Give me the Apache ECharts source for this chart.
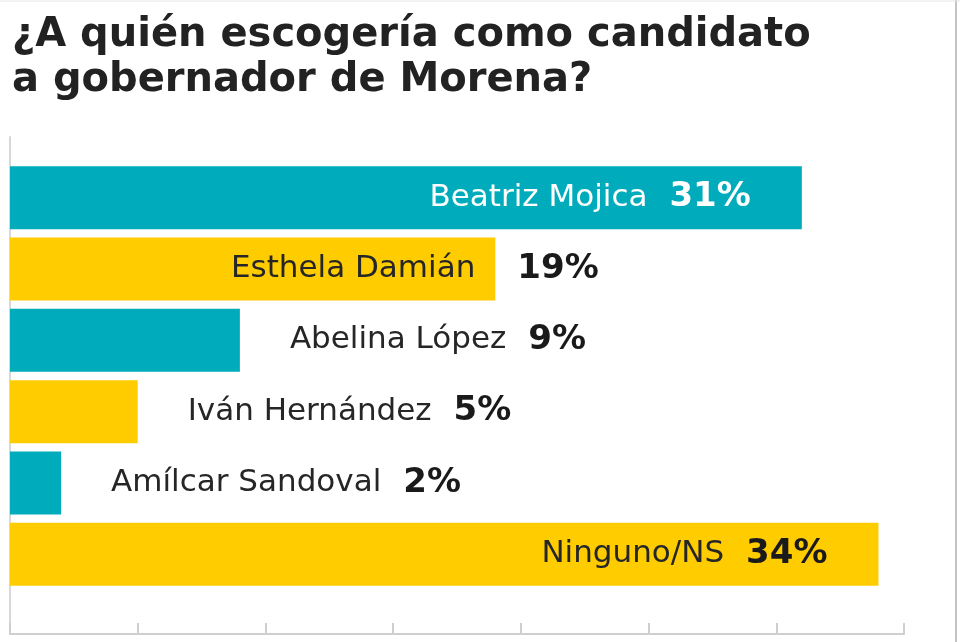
<!DOCTYPE html>
<html>
<head>
<meta charset="utf-8">
<script src="https://cdn.jsdelivr.net/npm/echarts@6/dist/echarts.min.js"></script>
<style>
    html, body { margin: 0; padding: 0; background: #fff; }
    #main { width: 960px; height: 642px; }
</style>
</head>
<body>
<div id="main"></div>
<script>
// datos de la encuesta
const candidatos = ['Beatriz Mojica', 'Esthela Damián', 'Abelina López', 'Iván Hernández', 'Amílcar Sandoval', 'Ninguno/NS']
const porcentajes = [31, 19, 9, 5, 2, 34]
const ticksX = [0, 5, 10, 15, 20, 25, 30, 35]

const colores = ['#00abbb', '#ffcc00']
const nameSize = 31

// medir ancho de texto para colocar la etiqueta partida
const ctx = document.createElement('canvas').getContext('2d')
function textWidth(txt) {
    ctx.font = nameSize + 'px "DejaVu Sans"'
    return ctx.measureText(txt).width
}

// cómo se coloca cada etiqueta: dentro al final, fuera, o partida
const modos = ['inside', 'split', 'outside', 'outside', 'outside', 'inside']

function labelFor(i) {
    let modo = modos[i]
    let base = {
        show: true,
        formatter: '{n|' + candidatos[i] + '}{g|}{p|{c}%}',
        rich: {
            n: { fontFamily: 'DejaVu Sans', fontSize: nameSize, color: i === 0 ? '#ffffff' : '#262626' },
            g: { width: 22 },
            p: { fontFamily: 'DejaVu Sans', fontWeight: 'bold', fontSize: 34, color: i === 0 ? '#ffffff' : '#1a1a1a' }
        }
    }
    if (modo === 'inside') {
        base.position = 'insideRight'
        base.distance = 51
    } else if (modo === 'outside') {
        base.position = 'right'
        base.distance = 50
    } else {
        base.position = 'right'
        base.distance = 0
        base.offset = [-(20 + textWidth(candidatos[i])), 0]
        base.rich.g = { width: 42 }
    }
    return base
}

let myChart = echarts.init(document.getElementById('main'))
let option = {
    animation: false,
    title: {
        text: '¿A quién escogería como candidato\na gobernador de Morena?',
        left: 7,
        top: 8,
        textStyle: {
            fontFamily: 'DejaVu Sans',
            fontWeight: 'bold',
            fontSize: 40,
            lineHeight: 45,
            color: '#222222'
        }
    },
    graphic: [
        { type: 'line', shape: { x1: 956, y1: 0, x2: 956, y2: 642 }, style: { stroke: '#c4c4c4', lineWidth: 2 } },
        { type: 'line', shape: { x1: 0, y1: 1, x2: 960, y2: 1 }, style: { stroke: '#e6e6e6', lineWidth: 1 } }
    ],
    grid: [
        // marco con ejes
        { left: 10, right: 56, top: 137, bottom: 8 },
        // barras
        { left: 10, right: 56, top: 162, bottom: 52 }
    ],
    xAxis: [
        {
            gridIndex: 0,
            type: 'value',
            min: ticksX[0],
            max: ticksX[ticksX.length - 1],
            interval: 5,
            axisLine: { show: true, lineStyle: { color: '#cfcfcf', width: 2 } },
            axisTick: { show: true, inside: true, length: 11, lineStyle: { color: '#cfcfcf', width: 2 } },
            axisLabel: { show: false },
            splitLine: { show: false }
        },
        {
            gridIndex: 1,
            type: 'value',
            min: ticksX[0],
            max: ticksX[ticksX.length - 1],
            show: false
        }
    ],
    yAxis: [
        {
            gridIndex: 0,
            type: 'value',
            axisLine: { show: true, lineStyle: { color: '#d8d8d8', width: 2 } },
            axisTick: { show: false },
            axisLabel: { show: false },
            splitLine: { show: false }
        },
        {
            gridIndex: 1,
            type: 'category',
            inverse: true,
            data: candidatos,
            show: false
        }
    ],
    series: [{
        type: 'bar',
        xAxisIndex: 1,
        yAxisIndex: 1,
        barWidth: 63,
        data: porcentajes.map((v, i) => ({
            value: v,
            itemStyle: { color: colores[i % 2] },
            label: labelFor(i)
        }))
    }]
}
myChart.setOption(option)
</script>
</body>
</html>
